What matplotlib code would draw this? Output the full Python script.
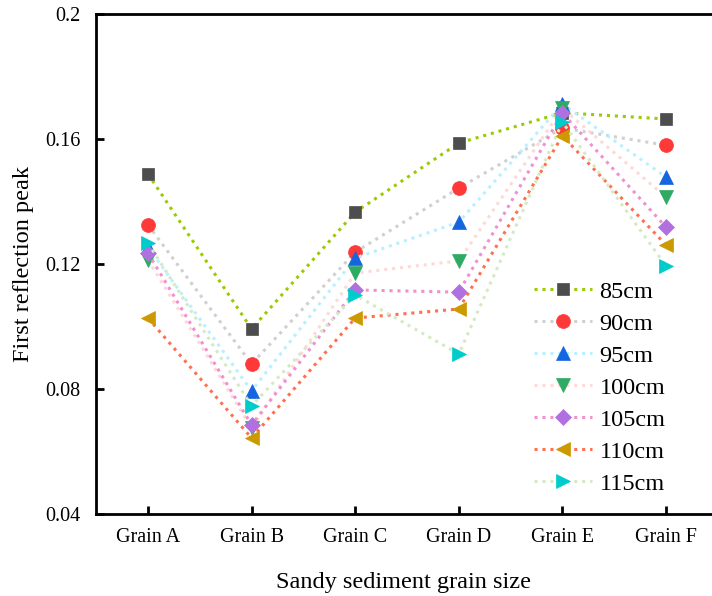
import numpy as np
import matplotlib
matplotlib.use("Agg")
import matplotlib.pyplot as plt

plt.rcParams["font.family"] = ["Liberation Serif", "DejaVu Serif"]

grains = ["Grain A", "Grain B", "Grain C", "Grain D", "Grain E", "Grain F"]
labels = ["85cm", "90cm", "95cm", "100cm", "105cm", "110cm", "115cm"]

v85 = [0.1488, 0.0992, 0.1366, 0.1587, 0.1684, 0.1664]
v90 = [0.1325, 0.0880, 0.1238, 0.1443, 0.1635, 0.1580]
v95 = [0.1254, 0.0794, 0.1219, 0.1334, 0.1712, 0.1478]
v100 = [0.1213, 0.0675, 0.1171, 0.1210, 0.1698, 0.1414]
v105 = [0.1235, 0.0685, 0.1117, 0.1110, 0.1683, 0.1318]
v110 = [0.1027, 0.0643, 0.1027, 0.1056, 0.1610, 0.1261]
v115 = [0.1267, 0.0746, 0.1101, 0.0912, 0.1654, 0.1194]

series = [v85, v90, v95, v100, v105, v110, v115]
line_colors = ["#99cc00", "#d0d0d0", "#b8f0ff", "#ffd8d8", "#f090d0", "#ff7050", "#d4eac4"]
marker_colors = ["#4d4d4d", "#ff3838", "#1565e0", "#2eaa62", "#b070e0", "#cc9900", "#00cccc"]
markers = ["s", "o", "^", "v", "D", "<", ">"]
msizes = [9, 10, 10, 10, 8.5, 10, 10]

fig = plt.figure(figsize=(7.12, 5.96), dpi=100)
ax = fig.add_axes([96 / 712, 82 / 596, 616 / 712, 500 / 596])

x = np.arange(len(grains))
for vals, lab, lc, mc, m, ms in zip(series, labels, line_colors, marker_colors, markers, msizes):
    ax.plot(x, vals, linestyle=(0, (1, 1.6)), linewidth=2.2, color=lc,
            marker=m, markersize=ms, markerfacecolor=mc, markeredgecolor=mc,
            markeredgewidth=0.5, label=lab)

ax.set_xlim(-0.502, 5.444)
ax.set_ylim(0.04, 0.2)
ax.set_xticks(x)
ax.set_xticklabels(grains)
ax.set_yticks([0.04, 0.08, 0.12, 0.16, 0.2])
ax.set_yticklabels(["0.04", "0.08", "0.12", "0.16", "0.2"])
ax.tick_params(direction="in", length=6, width=2, labelsize=14.5)
ax.tick_params(axis="x", pad=10)
ax.tick_params(axis="y", pad=11)

for side in ["left", "bottom", "top"]:
    ax.spines[side].set_linewidth(2)
ax.spines["right"].set_visible(False)

ax.set_xlabel("Sandy sediment grain size", fontsize=17.5, labelpad=18)
ax.set_ylabel("First reflection peak", fontsize=17.5, labelpad=8)

ax.legend(loc="upper left", bbox_to_anchor=(0.695, 0.486), frameon=False,
          fontsize=17.5, handlelength=2.4, handletextpad=0.3, labelspacing=0.41,
          borderaxespad=0)

fig.savefig("out.png", dpi=100)
